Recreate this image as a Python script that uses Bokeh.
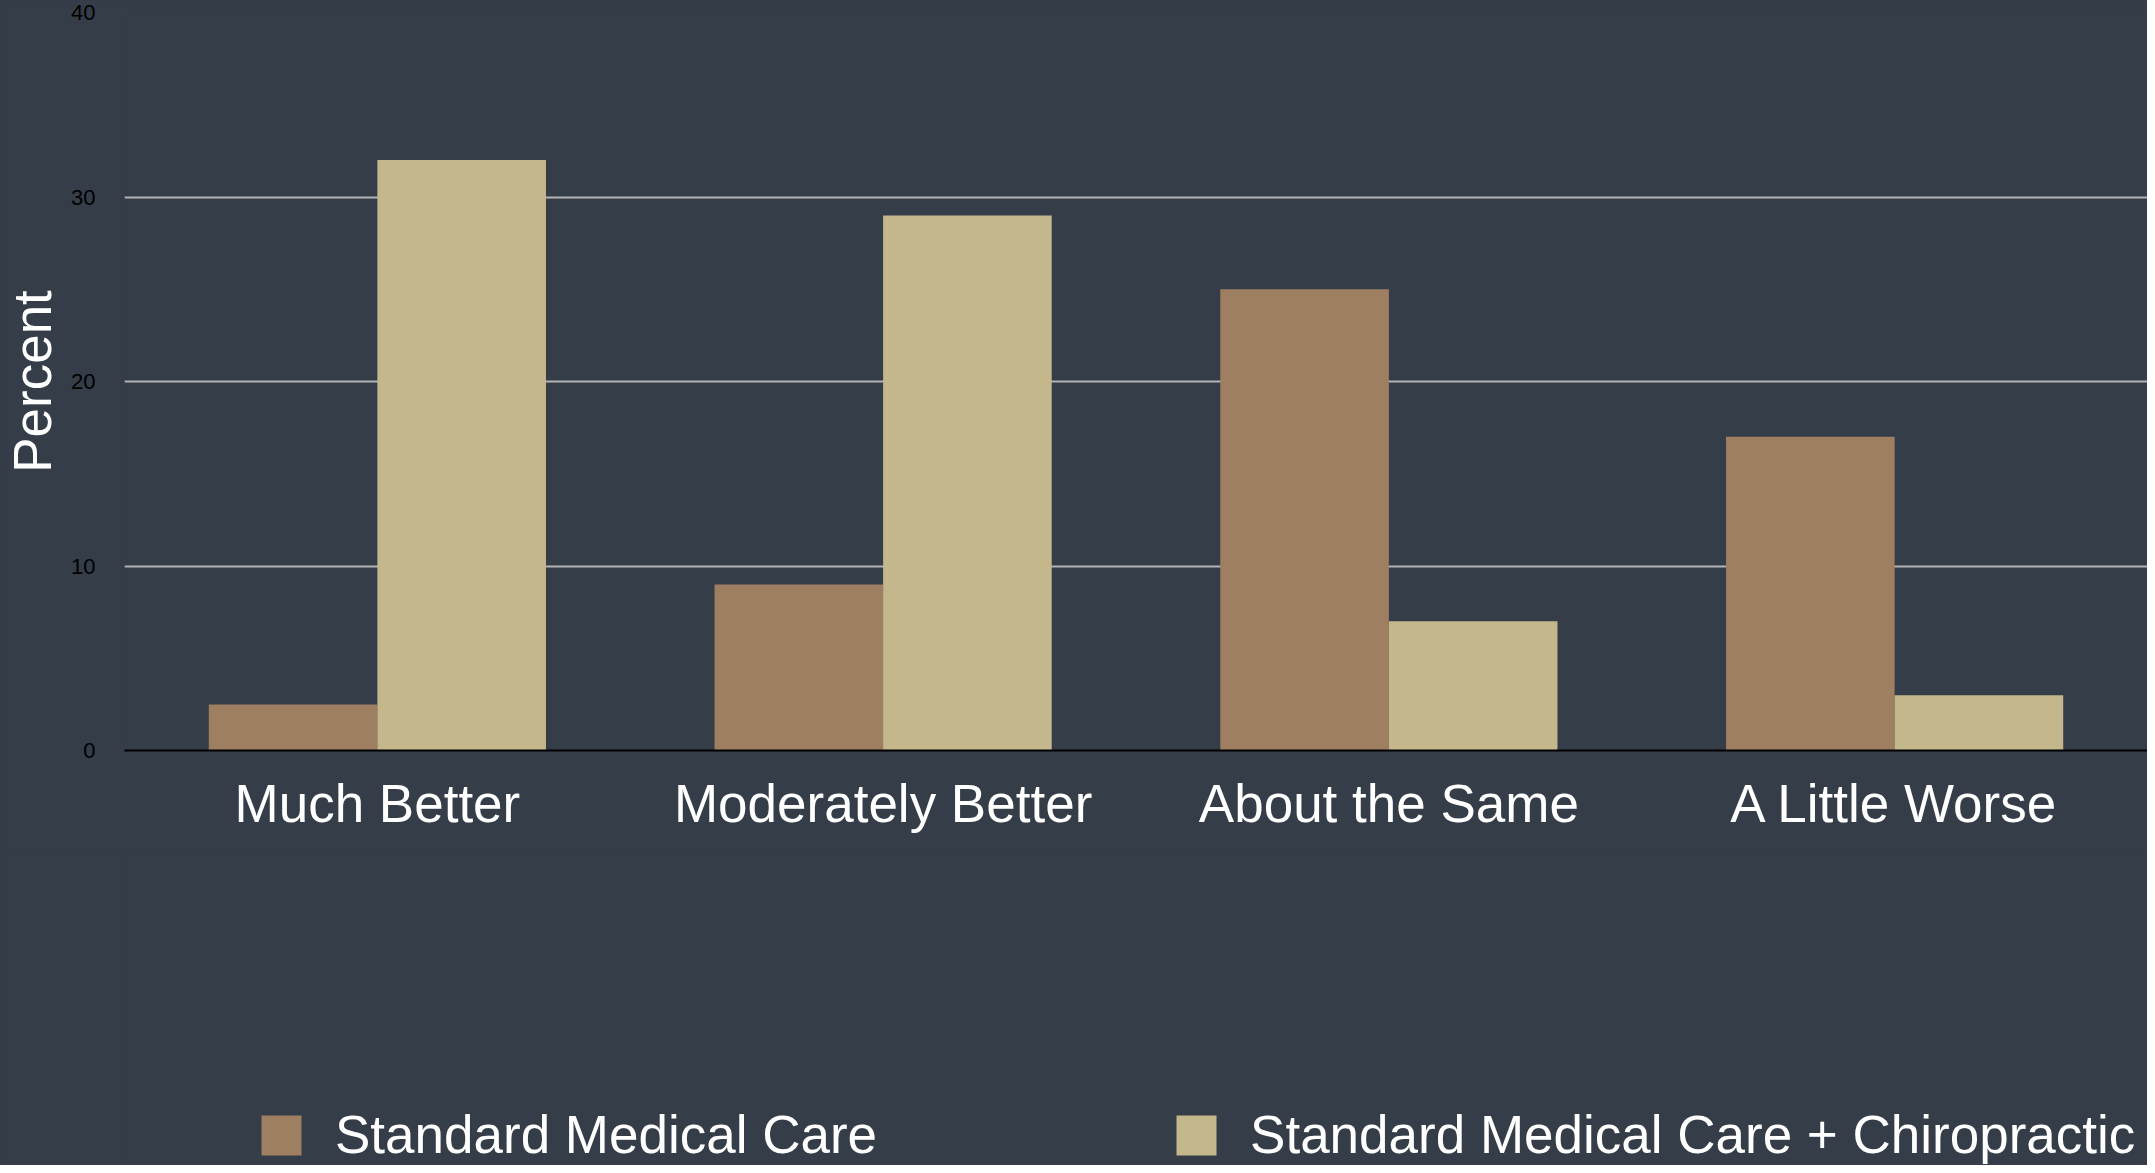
from bokeh.plotting import figure
from bokeh.layouts import column
from bokeh.models import ColumnDataSource, FactorRange, Range1d, Legend, LegendItem, FixedTicker
from bokeh.transform import dodge
from bokeh.embed import file_html
from bokeh.resources import INLINE

categories = ["Much Better", "Moderately Better", "About the Same", "A Little Worse"]
standard = [2.5, 9, 25, 17]
chiro = [32, 29, 7, 3]
y_ticks = [0, 10, 20, 30, 40]
series_names = ["Standard Medical Care", "Standard Medical Care + Chiropractic"]

BG = "#343d48"
BROWN = "#9e7f61"
TAN = "#c5b78c"
FONT = "Liberation Sans"
BIG = "53px"

src = ColumnDataSource(dict(cat=categories, standard=standard, chiro=chiro))

p = figure(x_range=FactorRange(*categories, range_padding=0), y_range=Range1d(0, 40),
           width=2147, height=850, output_backend="svg", toolbar_location=None,
           min_border_left=124, min_border_right=0, min_border_top=12, min_border_bottom=100,
           background_fill_color=BG, border_fill_color=BG, outline_line_color=None,
           styles={"background-color": BG})

r1 = p.vbar(x=dodge("cat", -1/6, range=p.x_range), top="standard", width=1/3, source=src,
            fill_color=BROWN, line_color=None)
r2 = p.vbar(x=dodge("cat", 1/6, range=p.x_range), top="chiro", width=1/3, source=src,
            fill_color=TAN, line_color=None)

p.xgrid.grid_line_color = None
p.ygrid.grid_line_color = "#b4b4b4"
p.ygrid.grid_line_width = 2
p.yaxis.ticker = FixedTicker(ticks=y_ticks)

p.yaxis.axis_line_color = None
p.yaxis.major_tick_line_color = None
p.yaxis.minor_tick_line_color = None
p.yaxis.major_label_text_color = "#000000"
p.yaxis.major_label_text_font = FONT
p.yaxis.major_label_text_font_size = "22px"
p.yaxis.major_label_standoff = 23
p.yaxis.axis_label = "Percent"
p.yaxis.axis_label_text_color = "#ffffff"
p.yaxis.axis_label_text_font = FONT
p.yaxis.axis_label_text_font_size = BIG
p.yaxis.axis_label_text_font_style = "normal"
p.yaxis.axis_label_standoff = 6

p.xaxis.axis_line_color = "#000000"
p.xaxis.axis_line_width = 2
p.xaxis.major_tick_line_color = None
p.xaxis.minor_tick_line_color = None
p.xaxis.major_label_text_color = "#ffffff"
p.xaxis.major_label_text_font = FONT
p.xaxis.major_label_text_font_size = BIG
p.xaxis.major_label_standoff = 17

# legend strip below the chart: its renderers carry the series styles for the legend
# swatches only (zero-size, outside the view)
lg = figure(x_range=p.x_range, y_range=Range1d(-100, -50),
            width=2147, height=315, output_backend="svg", toolbar_location=None,
            x_axis_location=None, y_axis_location=None,
            min_border_left=0, min_border_right=0, min_border_top=0, min_border_bottom=0,
            background_fill_color=BG, border_fill_color=BG, outline_line_color=None,
            styles={"background-color": BG})
lg.xgrid.grid_line_color = None
lg.ygrid.grid_line_color = None
k1 = lg.vbar(x=dodge("cat", -1/6, range=lg.x_range), top="standard", bottom="standard",
             width=0, source=src, fill_color=BROWN, line_color=None)
k2 = lg.vbar(x=dodge("cat", 1/6, range=lg.x_range), top="chiro", bottom="chiro",
             width=0, source=src, fill_color=TAN, line_color=None)

legend = Legend(items=[LegendItem(label=series_names[0], renderers=[k1]),
                       LegendItem(label=series_names[1], renderers=[k2])],
                orientation="horizontal", location=(132, 0),
                glyph_width=50, glyph_height=50, label_standoff=29, spacing=294,
                padding=0, margin=0, border_line_color=None, background_fill_alpha=0,
                label_text_color="#ffffff", label_text_font=FONT, label_text_font_size=BIG)
lg.add_layout(legend, "center")

page = column(p, lg, spacing=0, styles={"background-color": BG})
open("out.html", "w").write(file_html(page, INLINE))
